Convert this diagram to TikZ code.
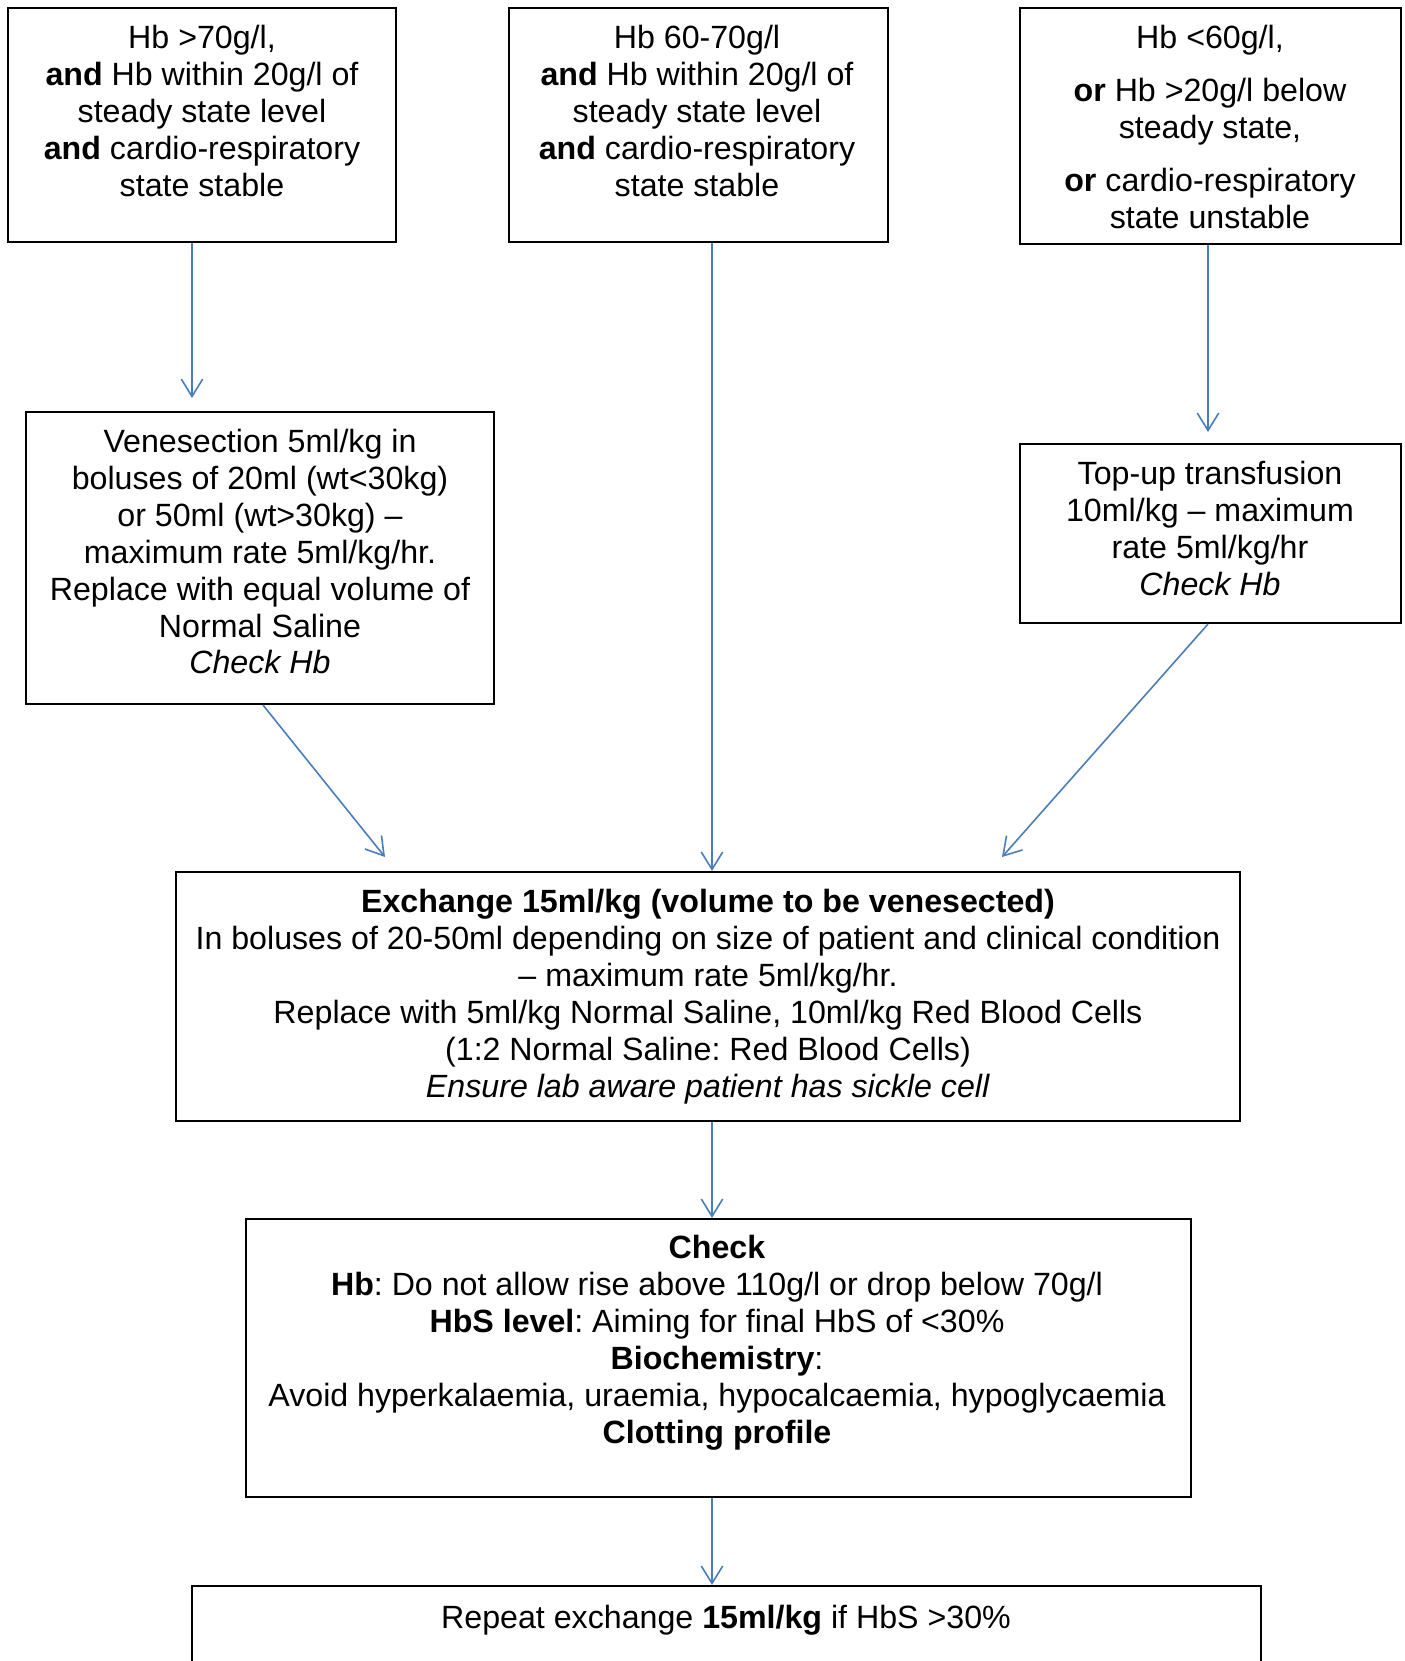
\documentclass[tikz,border=0pt]{standalone}
\usepackage{fontspec}
\setmainfont{Liberation Sans}
\usetikzlibrary{arrows.meta}
\definecolor{arrowblue}{RGB}{74,126,187}
\def\pxu{0.373pt}
\frenchspacing
\tikzset{
  boxnode/.style 2 args={draw=black, line width=0.8pt, inner sep=0pt, minimum width=#1*\pxu, minimum height=#2*\pxu},
  txt/.style={inner sep=0pt, align=center, font=\fontsize{12}{13.8}\selectfont\frenchspacing},
  conn/.style={draw=arrowblue, line width=0.6pt, -{Straight Barb[length=6.5pt,width=8pt,line width=0.6pt]}}
}
\begin{document}
\begin{tikzpicture}[x=0.373pt,y=-0.373pt]
\useasboundingbox (0,0) rectangle (1404,1661);
\clip (0,0) rectangle (1404,1661);
% boxes
\node[boxnode={388}{234}] (b1) at (202,125) {};
\node[boxnode={379}{234}] (b2) at (698.5,125) {};
\node[boxnode={381}{236}] (b3) at (1210.5,126) {};
\node[boxnode={468}{292}] (ven) at (260,558) {};
\node[boxnode={381}{179}] (top) at (1210.5,533.5) {};
\node[boxnode={1064}{249}] (ex) at (708,996.5) {};
\node[boxnode={945}{278}] (ck) at (718.5,1358) {};
\node[boxnode={1069}{134}] (rp) at (726.5,1653) {};
% texts
\node[txt] (t1) at (202,111) {Hb >70g/l,\\\textbf{and} Hb within 20g/l of\\steady state level\\\textbf{and} cardio-respiratory\\state stable};
\node[txt] (t2) at (697,111) {Hb 60-70g/l\\\textbf{and} Hb within 20g/l of\\steady state level\\\textbf{and} cardio-respiratory\\state stable};
\node[txt] (t3) at (1210,127) {Hb <60g/l,\\[6pt]\textbf{or} Hb >20g/l below\\steady state,\\[6pt]\textbf{or} cardio-respiratory\\state unstable};
\node[txt] (tv) at (260,551.5) {Venesection 5ml/kg in\\boluses of 20ml (wt<30kg)\\or 50ml (wt>30kg) –\\maximum rate 5ml/kg/hr.\\Replace with equal volume of\\Normal Saline\\\textit{Check Hb}};
\node[txt] (tt) at (1210,528) {Top-up transfusion\\10ml/kg – maximum\\rate 5ml/kg/hr\\\textit{Check Hb}};
\node[txt] (te) at (708,997) {\textbf{Exchange 15ml/kg (volume to be venesected)}\\In boluses of 20-50ml depending on size of patient and clinical condition\\– maximum rate 5ml/kg/hr.\\Replace with 5ml/kg Normal Saline, 10ml/kg Red Blood Cells\\(1:2 Normal Saline: Red Blood Cells)\\\textit{Ensure lab aware patient has sickle cell}};
\node[txt] (tc) at (717,1342.5) {\textbf{Check}\\\textbf{Hb}: Do not allow rise above 110g/l or drop below 70g/l\\\textbf{HbS level}: Aiming for final HbS of <30\%\\\textbf{Biochemistry}:\\Avoid hyperkalaemia, uraemia, hypocalcaemia, hypoglycaemia\\\textbf{Clotting profile}};
\node[txt] (tr) at (726,1620) {Repeat exchange \textbf{15ml/kg} if HbS >30\%};
% connector ends
\coordinate (e1) at (192,398);
\coordinate (e3) at (1208,432);
\coordinate (e4) at (385,857);
\coordinate (e5) at (1002,857);
\coordinate (s4) at (263,0);
\coordinate (mx) at (712,0);
% connectors
\draw[conn] (b1.south -| e1) -- (e1);
\draw[conn] (b2.south -| mx) -- (ex.north -| mx);
\draw[conn] (b3.south -| e3) -- (e3);
\draw[conn] (ven.south -| s4) -- (e4);
\draw[conn] (top.south -| e3) -- (e5);
\draw[conn] (ex.south -| mx) -- (ck.north -| mx);
\draw[conn] (ck.south -| mx) -- (rp.north -| mx);
\end{tikzpicture}
\end{document}
